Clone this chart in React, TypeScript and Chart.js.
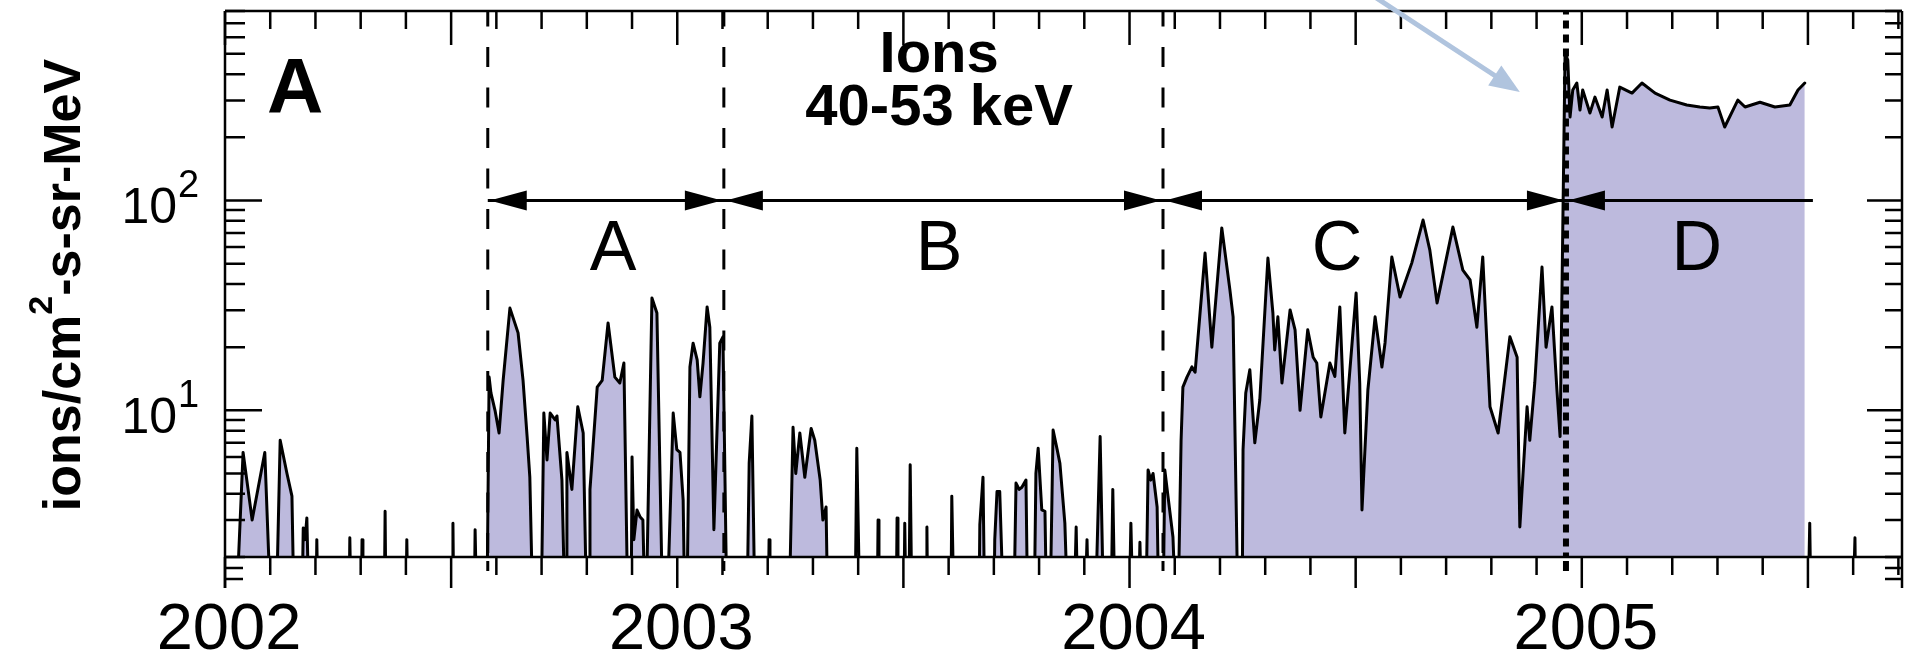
import React, { useEffect, useRef } from 'react';
import { Chart, registerables } from 'chart.js';

Chart.register(...registerables);

const FONT = '"Liberation Sans", Arial, Helvetica, sans-serif';

// below the plotted range (the axis starts at 2): drawn under the frame
const F = 1;

// [decimal year, ions/cm2-s-sr-MeV]
const early2002: [number, number][] = [
  [2002.024, F], [2002.040, 6.3], [2002.051, 4.2], [2002.060, 3.0], [2002.088, 6.3], [2002.102, F],
  [2002.113, F], [2002.122, 7.2], [2002.137, 5.0], [2002.148, 3.9], [2002.153, F],
  [2002.170, F], [2002.173, 2.75], [2002.177, 2.42], [2002.181, 3.07], [2002.186, F],
  [2002.201, F], [2002.203, 2.42], [2002.206, F],
  [2002.274, F], [2002.276, 2.47], [2002.279, F],
  [2002.301, F], [2002.303, 2.42], [2002.305, F],
  [2002.352, F], [2002.354, 3.3], [2002.356, F],
  [2002.400, F], [2002.402, 2.42], [2002.405, F],
  [2002.502, F], [2002.504, 2.9], [2002.506, F],
  [2002.551, F], [2002.553, 2.7], [2002.557, F],
];

const periodA: [number, number][] = [
  [2002.579, F], [2002.584, 14.4], [2002.588, 12.1], [2002.597, 10.0], [2002.606, 7.8], [2002.615, 13.9],
  [2002.630, 30.7], [2002.648, 23.4], [2002.659, 13.9], [2002.668, 7.5], [2002.674, 4.8], [2002.681, F],
  [2002.699, F], [2002.705, 9.7], [2002.712, 5.8], [2002.719, 9.7], [2002.730, 9.0], [2002.734, 9.4],
  [2002.745, 4.65], [2002.752, F],
  [2002.754, F], [2002.756, 6.3], [2002.767, 4.2], [2002.780, 10.4], [2002.792, 7.8], [2002.800, F],
  [2002.805, F], [2002.807, 4.2], [2002.823, 12.9], [2002.834, 13.9], [2002.847, 26.1], [2002.862, 14.4],
  [2002.873, 13.5], [2002.882, 16.8], [2002.891, F],
  [2002.898, F], [2002.900, 6.0], [2002.904, 2.42], [2002.911, 3.35], [2002.918, 3.1], [2002.924, 3.0], [2002.929, F],
  [2002.931, F], [2002.944, 34.3], [2002.955, 29.1], [2002.968, F],
  [2002.977, F], [2002.991, 9.7], [2002.999, 6.5], [2003.006, 6.3], [2003.013, 3.73], [2003.017, F],
  [2003.021, F], [2003.028, 16.1], [2003.035, 20.9], [2003.044, 17.4], [2003.050, 11.6], [2003.057, 16.8],
  [2003.066, 31.1], [2003.072, 24.9], [2003.081, 2.7], [2003.094, 20.9], [2003.101, 22.4], [2003.110, F],
];

const periodB: [number, number][] = [
  [2003.154, F], [2003.159, 5.6], [2003.165, 9.4], [2003.172, F],
  [2003.201, F], [2003.203, 2.42], [2003.205, F],
  [2003.247, F], [2003.256, 8.3], [2003.262, 5.0], [2003.271, 7.8], [2003.282, 4.8], [2003.296, 8.2],
  [2003.304, 7.2], [2003.316, 4.65], [2003.322, 3.0], [2003.329, 3.46], [2003.333, F],
  [2003.393, F], [2003.397, 6.6], [2003.404, F],
  [2003.442, F], [2003.444, 3.0], [2003.446, F],
  [2003.484, F], [2003.486, 3.07], [2003.488, F],
  [2003.501, F], [2003.503, 2.9], [2003.506, F],
  [2003.512, F], [2003.515, 5.5], [2003.519, F],
  [2003.550, F], [2003.552, 2.78], [2003.554, F],
  [2003.605, F], [2003.607, 3.9], [2003.612, F],
  [2003.667, F], [2003.669, 2.85], [2003.676, 4.8], [2003.680, F],
  [2003.700, F], [2003.702, 2.42], [2003.707, 4.1], [2003.713, 4.1], [2003.722, F],
  [2003.744, F], [2003.749, 4.5], [2003.756, 4.2], [2003.762, 4.3], [2003.771, 4.65], [2003.775, F],
  [2003.789, F], [2003.793, 5.0], [2003.798, 6.6], [2003.806, 3.35], [2003.813, 3.3], [2003.817, F],
  [2003.824, F], [2003.831, 8.05], [2003.840, 6.5], [2003.846, 5.6], [2003.857, 2.9], [2003.864, F],
  [2003.877, F], [2003.882, 2.78], [2003.886, F],
  [2003.901, F], [2003.906, 2.42], [2003.910, F],
  [2003.924, F], [2003.935, 7.5], [2003.943, F],
  [2003.959, F], [2003.963, 4.2], [2003.968, F],
  [2003.999, F], [2004.003, 2.9], [2004.008, F],
  [2004.019, F], [2004.023, 2.35], [2004.027, F],
  [2004.036, F], [2004.041, 5.2], [2004.047, 4.65], [2004.052, 5.0], [2004.061, 3.46], [2004.065, F],
  [2004.074, F], [2004.078, 5.2], [2004.085, 3.9], [2004.096, 2.49], [2004.103, F],
];

const periodC: [number, number][] = [
  [2004.107, F], [2004.114, 7.2], [2004.118, 12.9], [2004.127, 14.4], [2004.138, 16.1], [2004.145, 15.2],
  [2004.167, 56.2], [2004.182, 20.0], [2004.204, 74], [2004.222, 37.4], [2004.229, 27.9], [2004.240, F],
  [2004.249, F], [2004.251, 6.5], [2004.257, 12.1], [2004.266, 15.6], [2004.277, 7.0], [2004.288, 11.2],
  [2004.306, 53.2], [2004.317, 29.1], [2004.321, 19.4], [2004.328, 27.9], [2004.337, 13.5], [2004.355, 30.1],
  [2004.366, 24.2], [2004.377, 10.0], [2004.394, 24.2], [2004.406, 17.9], [2004.414, 16.8], [2004.423, 9.3],
  [2004.443, 16.8], [2004.454, 14.5], [2004.465, 31.1], [2004.476, 7.8], [2004.501, 36.2], [2004.509, 13.5],
  [2004.514, 3.35], [2004.527, 12.5], [2004.543, 27.9], [2004.558, 16.1], [2004.565, 21], [2004.580, 53.8],
  [2004.598, 34.7], [2004.624, 50.3], [2004.649, 80.7], [2004.664, 58], [2004.680, 32.5], [2004.715, 74.7],
  [2004.737, 46.6], [2004.753, 41.8], [2004.768, 24.9], [2004.781, 53.8], [2004.797, 10.4], [2004.815, 7.8],
  [2004.841, 22.4], [2004.857, 17.9], [2004.863, 2.78], [2004.879, 10.4], [2004.885, 7.2], [2004.896, 13.5],
  [2004.912, 48.2], [2004.921, 20.0], [2004.934, 31.1], [2004.945, 12.5], [2004.952, 7.5],
];

const periodD: [number, number][] = [
  [2004.963, 505], [2004.969, 467], [2004.974, 250], [2004.980, 336], [2004.989, 363], [2004.996, 270],
  [2005.002, 336], [2005.018, 261], [2005.029, 311], [2005.045, 250], [2005.056, 336], [2005.067, 224],
  [2005.084, 347], [2005.111, 325], [2005.133, 363], [2005.162, 325], [2005.195, 301], [2005.232, 285],
  [2005.261, 279], [2005.283, 276], [2005.301, 279], [2005.316, 224], [2005.345, 301], [2005.361, 279],
  [2005.394, 294], [2005.427, 279], [2005.460, 285], [2005.478, 336], [2005.493, 363],
];

const afterD: [number, number][] = [
  [2005.500, F], [2005.504, 2.9], [2005.507, F],
  [2005.599, F], [2005.604, 2.47], [2005.606, F],
];

const boundaryYears = [2002.581, 2003.103, 2004.074, 2004.965];
const arrowEndYear = 2005.511;
const arrowLevel = 100;
const periodNames = ['A', 'B', 'C', 'D'];
const periodLabelYears = [2002.858, 2003.579, 2004.459, 2005.254];
const periodLabelBase = 46.6;
const yearTicks = [2002, 2003, 2004, 2005];
const decadeLabels: [number, string][] = [[100, '2'], [10, '1']];
const titleLines = ['Ions', '40-53 keV'];
const titleYear = 2003.579;
const titleBases = [410, 229];
const panelLetter = 'A';
const panelYear = 2002.093;
const panelBase = 261;
const xMin = 2002;
const xMax = 2005.708;
const yMin = 2;
const yMax = 800;

const decorations = {
  id: 'decorations',
  afterDatasetsDraw(chart: any) {
    const { ctx, chartArea: ca } = chart;
    const xs = chart.scales.x;
    const ys = chart.scales.y;
    const X = (v: number) => xs.getPixelForValue(v);
    const Y = (v: number) => ys.getPixelForValue(v);
    ctx.save();
    ctx.strokeStyle = '#000';
    ctx.fillStyle = '#000';

    // period boundaries
    ctx.save();
    ctx.beginPath();
    ctx.rect(ca.left, ca.top, ca.right - ca.left, ca.bottom - ca.top);
    ctx.clip();
    boundaryYears.forEach((b, i) => {
      const px = X(b);
      ctx.beginPath();
      if (i === boundaryYears.length - 1) {
        ctx.lineWidth = 6;
        ctx.setLineDash([8, 6]);
      } else {
        ctx.lineWidth = 3;
        ctx.setLineDash([20, 20.5]);
      }
      ctx.moveTo(px, ca.top - 4.5);
      ctx.lineTo(px, ca.bottom);
      ctx.stroke();
    });
    ctx.restore();
    ctx.setLineDash([]);

    // stubs of the dashed lines below the panel
    boundaryYears.forEach((b, i) => {
      const px = X(b);
      ctx.beginPath();
      ctx.lineWidth = i === boundaryYears.length - 1 ? 6 : 3;
      ctx.moveTo(px, ca.bottom + 4);
      ctx.lineTo(px, ca.bottom + 14);
      ctx.stroke();
    });

    // period arrows
    const ya = Y(arrowLevel);
    ctx.lineWidth = 3;
    ctx.beginPath();
    ctx.moveTo(X(boundaryYears[0]), ya);
    ctx.lineTo(X(arrowEndYear), ya);
    ctx.stroke();
    const head = (tip: number, dir: number) => {
      ctx.beginPath();
      ctx.moveTo(tip, ya);
      ctx.lineTo(tip - dir * 37, ya - 10);
      ctx.lineTo(tip - dir * 37, ya + 10);
      ctx.closePath();
      ctx.fill();
    };
    boundaryYears.forEach((b, i) => {
      head(X(b) + 2, -1);
      if (i < boundaryYears.length - 1) head(X(boundaryYears[i + 1]) - 2, 1);
    });

    // period letters
    ctx.font = `70px ${FONT}`;
    ctx.textAlign = 'center';
    ctx.textBaseline = 'alphabetic';
    periodNames.forEach((n, i) => ctx.fillText(n, X(periodLabelYears[i]), Y(periodLabelBase)));

    // title
    ctx.font = `bold 58px ${FONT}`;
    titleLines.forEach((t, i) => ctx.fillText(t, X(titleYear), Y(titleBases[i])));

    // panel letter
    ctx.textAlign = 'left';
    ctx.font = `bold 78px ${FONT}`;
    ctx.fillText(panelLetter, X(panelYear), Y(panelBase));

    // frame
    ctx.lineWidth = 2.5;
    ctx.beginPath();
    ctx.moveTo(ca.left, ca.top);
    ctx.lineTo(ca.right, ca.top);
    ctx.moveTo(ca.left, ca.bottom);
    ctx.lineTo(ca.right, ca.bottom);
    ctx.moveTo(ca.left, ca.top);
    ctx.lineTo(ca.left, ca.bottom + 31);
    ctx.moveTo(ca.right, ca.top);
    ctx.lineTo(ca.right, ca.bottom + 31);
    ctx.stroke();

    // x ticks (0.1 yr minor, 0.5 yr major), top and bottom
    ctx.beginPath();
    for (let k = 0; k <= 40; k++) {
      const t = xMin + k / 10;
      if (t > xMax) break;
      const px = X(t);
      const major = k % 5 === 0;
      ctx.moveTo(px, ca.top);
      ctx.lineTo(px, ca.top + (major ? 34 : 18));
      ctx.moveTo(px, ca.bottom);
      ctx.lineTo(px, ca.bottom + (major ? 31 : 18));
    }
    // y ticks, left and right
    [1, 10, 100].forEach((dec) => {
      for (let m = 1; m <= 9; m++) {
        const v = m * dec;
        if (v < yMin || v > yMax) continue;
        const py = Y(v);
        const major = m === 1;
        ctx.moveTo(ca.left, py);
        ctx.lineTo(ca.left + (major ? 37 : 20), py);
        ctx.moveTo(ca.right, py);
        ctx.lineTo(ca.right - (major ? 35 : 17), py);
      }
    });
    // stubs of the next panel's left/right ticks
    [11, 22].forEach((d) => {
      ctx.moveTo(ca.left, ca.bottom + d);
      ctx.lineTo(ca.left + 18, ca.bottom + d);
      ctx.moveTo(ca.right, ca.bottom + d);
      ctx.lineTo(ca.right - 17, ca.bottom + d);
    });
    ctx.stroke();

    // y tick labels 10^n
    decadeLabels.forEach(([v, e]) => {
      const py = Y(v);
      ctx.font = `50px ${FONT}`;
      ctx.textAlign = 'right';
      ctx.fillText('10', ca.left - 48, py + 23);
      ctx.font = `38px ${FONT}`;
      ctx.textAlign = 'left';
      ctx.fillText(e, ca.left - 47, py - 3);
    });

    // y axis title
    ctx.save();
    ctx.translate(80, (ca.top + ca.bottom) / 2 + 1);
    ctx.rotate(-Math.PI / 2);
    const big = `bold 52px ${FONT}`;
    const small = `bold 34px ${FONT}`;
    const p1 = 'ions/cm';
    const p2 = '2';
    const p3 = '-s-sr-MeV';
    ctx.font = big;
    const w1 = ctx.measureText(p1).width;
    const w3 = ctx.measureText(p3).width;
    ctx.font = small;
    const w2 = ctx.measureText(p2).width;
    const x0 = -(w1 + w2 + w3) / 2;
    ctx.textAlign = 'left';
    ctx.font = big;
    ctx.fillText(p1, x0, 0);
    ctx.font = small;
    ctx.fillText(p2, x0 + w1, -28);
    ctx.font = big;
    ctx.fillText(p3, x0 + w1 + w2, 0);
    ctx.restore();

    ctx.restore();
  },
  afterDraw(chart: any) {
    // light blue pointer arrow
    const { ctx } = chart;
    const tipX = chart.scales.x.getPixelForValue(2004.863);
    const tipY = chart.scales.y.getPixelForValue(329);
    const dx = 148, dy = 97;
    const len = Math.hypot(dx, dy);
    const ux = dx / len, uy = dy / len;
    ctx.save();
    ctx.strokeStyle = 'rgb(176,196,222)';
    ctx.fillStyle = 'rgb(176,196,222)';
    ctx.lineWidth = 5;
    ctx.beginPath();
    ctx.moveTo(tipX - ux * 200, tipY - uy * 200);
    ctx.lineTo(tipX - ux * 20, tipY - uy * 20);
    ctx.stroke();
    ctx.beginPath();
    ctx.moveTo(tipX, tipY);
    ctx.lineTo(tipX - ux * 30 + uy * 12, tipY - uy * 30 - ux * 12);
    ctx.lineTo(tipX - ux * 30 - uy * 12, tipY - uy * 30 + ux * 12);
    ctx.closePath();
    ctx.fill();
    ctx.restore();
  },
};

export default function App() {
  const ref = useRef<HTMLCanvasElement | null>(null);
  useEffect(() => {
    if (!ref.current) return;
    const pts: { x: number; y: number | null }[] = [];
    [early2002, periodA, periodB, periodC, periodD].forEach((arr) =>
      arr.forEach(([x, y]) => pts.push({ x, y }))
    );
    pts.push({ x: 2005.497, y: null });
    afterD.forEach(([x, y]) => pts.push({ x, y }));

    const chart = new Chart(ref.current, {
      type: 'line',
      data: {
        datasets: [
          {
            data: pts as any,
            borderColor: '#000',
            borderWidth: 3,
            borderJoinStyle: 'round',
            borderCapStyle: 'round',
            backgroundColor: 'rgb(189,186,221)',
            fill: 'start',
            pointRadius: 0,
            tension: 0,
            spanGaps: false,
          },
        ],
      },
      options: {
        responsive: false,
        maintainAspectRatio: false,
        animation: false,
        events: [],
        layout: { padding: { top: 11, right: 3, left: 0, bottom: 0 } },
        plugins: { legend: { display: false }, tooltip: { enabled: false } },
        scales: {
          x: {
            type: 'linear',
            min: xMin,
            max: xMax,
            grid: { display: false, drawTicks: false },
            border: { display: false },
            afterBuildTicks: (s: any) => {
              s.ticks = yearTicks.map((v) => ({ value: v }));
            },
            afterFit: (s: any) => {
              s.height = 105;
            },
            ticks: {
              color: '#000',
              font: { family: FONT, size: 65 },
              padding: 35,
              labelOffset: 4,
              maxRotation: 0,
              autoSkip: false,
              callback: (v: any) => String(v),
            },
          },
          y: {
            type: 'logarithmic',
            min: yMin,
            max: yMax,
            grid: { display: false, drawTicks: false },
            border: { display: false },
            ticks: { display: false },
            afterFit: (s: any) => {
              s.width = 225;
            },
          },
        },
      },
      plugins: [decorations],
    });
    return () => chart.destroy();
  }, []);

  return (
    <div style={{ position: 'absolute', left: 0, top: 0, width: 1905, height: 662, background: '#fff' }}>
      <canvas ref={ref} width={1905} height={662} style={{ display: 'block' }} />
    </div>
  );
}
